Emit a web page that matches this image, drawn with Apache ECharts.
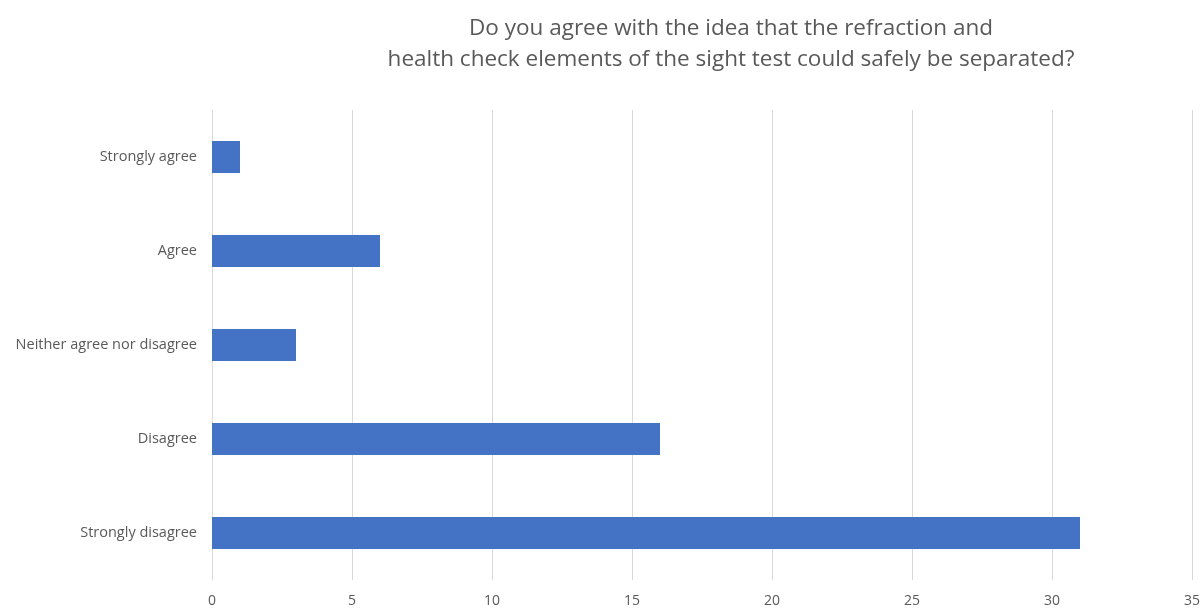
<!DOCTYPE html>
<html>
<head>
<meta charset="utf-8">
<script src="https://cdn.jsdelivr.net/npm/echarts@6/dist/echarts.min.js"></script>
<style>
  html, body { margin: 0; padding: 0; background: #fff; }
  #chart { width: 1203px; height: 612px; }
</style>
</head>
<body>
<div id="chart"></div>
<script>
// Survey responses, listed bottom-to-top as drawn on the category axis
const categories = ['Strongly disagree', 'Disagree', 'Neither agree nor disagree', 'Agree', 'Strongly agree'];
const counts = [31, 16, 3, 6, 1];
const xTicks = { min: 0, max: 35, interval: 5 };
const titleLines = [
  'Do you agree with the idea that the refraction and',
  'health check elements of the sight test could safely be separated?'
];

const FONT = '"Open Sans", "Liberation Sans", sans-serif';
const chart = echarts.init(document.getElementById('chart'));
chart.setOption({
  animation: false,
  backgroundColor: '#ffffff',
  title: {
    text: titleLines.join('\n'),
    left: 726,
    top: 8,
    textAlign: 'center',
    textStyle: {
      fontFamily: FONT,
      fontSize: 22.5,
      fontWeight: 'normal',
      color: '#595959',
      lineHeight: 31
    }
  },
  grid: { left: 212, right: 11, top: 110, bottom: 32, containLabel: false },
  xAxis: {
    type: 'value',
    min: xTicks.min,
    max: xTicks.max,
    interval: xTicks.interval,
    axisLine: { show: false },
    axisTick: { show: false },
    axisLabel: { color: '#595959', fontFamily: FONT, fontSize: 14, margin: 14 },
    splitLine: { show: true, lineStyle: { color: '#d9d9d9', width: 1 } }
  },
  yAxis: {
    type: 'category',
    data: categories,
    axisLine: { show: true, lineStyle: { color: '#d9d9d9', width: 1 } },
    axisTick: { show: false },
    axisLabel: { color: '#595959', fontFamily: FONT, fontSize: 14.5, margin: 15 }
  },
  series: [{
    type: 'bar',
    data: counts,
    barWidth: 32,
    itemStyle: { color: '#4472c4' }
  }]
});
</script>
</body>
</html>
